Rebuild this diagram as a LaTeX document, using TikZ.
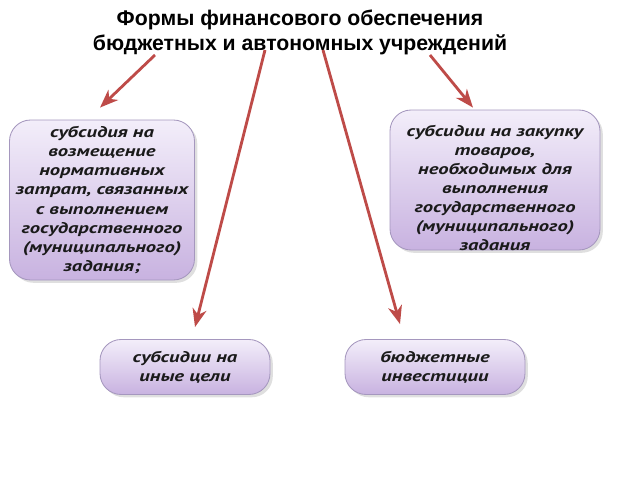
\documentclass[tikz,border=0pt]{standalone}
\usepackage{fontspec}
\setmainfont{PT Sans}
\newfontfamily\titlefont{Liberation Sans}
\newfontfamily\boxfont[FakeStretch=1.33]{PT Sans}
\usetikzlibrary{positioning,calc,arrows.meta,shadows}

\definecolor{boxtop}{HTML}{F3EEFA}
\definecolor{boxbot}{HTML}{C8B2E0}
\definecolor{boxline}{HTML}{A597BE}
\definecolor{arrred}{HTML}{BE4B48}
\definecolor{txtgray}{HTML}{1A1A1A}

\tikzset{
  formbox/.style={rectangle, rounded corners=15, draw=boxline, line width=0.6pt,
    top color=boxtop, bottom color=boxbot, align=center, text=txtgray,
    font=\boxfont\fontsize{11}{13.6}\selectfont\bfseries\itshape,
    drop shadow={shadow xshift=2pt, shadow yshift=-2pt, opacity=0.25, fill=gray},
    inner sep=2pt},
  formtext/.style={align=center, text=txtgray,
    font=\boxfont\fontsize{11}{13.6}\selectfont\bfseries\itshape},
  arr/.style={-{Stealth[length=13pt,width=10pt,inset=4pt]}, draw=arrred, line width=2pt}
}

\begin{document}
\begin{tikzpicture}[x=0.025cm,y=-0.025cm]
    \useasboundingbox (0,0) rectangle (640,480);
    % Title
    \node[align=center, font=\titlefont\fontsize{15.1}{17.7}\selectfont\bfseries] (title) at (300,32)
      {Формы финансового обеспечения\\бюджетных и автономных учреждений};

    % Forms
    \node[formbox, minimum width=185*0.025cm, minimum height=160*0.025cm] (normz) at (102,200)
      {субсидия на\\возмещение\\нормативных\\затрат, связанных\\с выполнением\\государственного\\(муниципального)\\задания;};
    \node[formbox, minimum width=210*0.025cm, minimum height=140*0.025cm] (zakup) at (495,180) {};
    \node[formtext] (zakuptxt) at ($(zakup.center)+(0,8)$)
      {субсидии на закупку\\товаров,\\необходимых для\\выполнения\\государственного\\(муниципального)\\задания};
    \node[formbox, minimum width=170*0.025cm, minimum height=55*0.025cm] (inye) at (185,367)
      {субсидии на\\иные цели};
    \node[formbox, minimum width=180*0.025cm, minimum height=55*0.025cm] (invest) at (435,367)
      {бюджетные\\инвестиции};

    % Arrows
    \coordinate (t1) at (155,55);
    \coordinate (t2) at (265,50);
    \coordinate (t3) at (323,50);
    \coordinate (t4) at (430,55);
    \draw[arr] (t1) -- ($(normz.north)+(-2,-12)$);
    \draw[arr] (t2) -- ($(inye.north)+(10,-12)$);
    \draw[arr] (t3) -- ($(invest.north)+(-35,-15)$);
    \draw[arr] (t4) -- ($(zakup.north)+(-22,-2)$);
\end{tikzpicture}
\end{document}
